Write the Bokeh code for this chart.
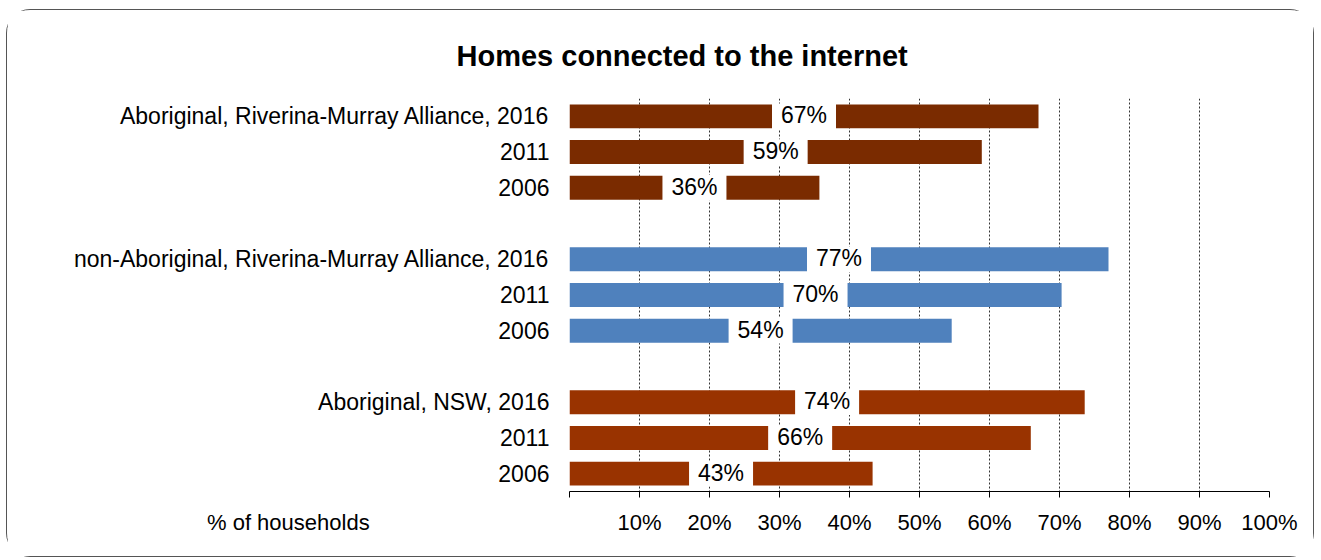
from bokeh.plotting import figure
from bokeh.models import ColumnDataSource, Range1d, FixedTicker
from bokeh.core.properties import value
from bokeh.embed import file_html
from bokeh.resources import INLINE

# ---- data ----
groups = ["Aboriginal, Riverina-Murray Alliance",
          "non-Aboriginal, Riverina-Murray Alliance",
          "Aboriginal, NSW"]
years = ["2016", "2011", "2006"]
aboriginal_rma = [67.0, 58.9, 35.7]
non_aboriginal_rma = [77.0, 70.3, 54.6]
aboriginal_nsw = [73.6, 65.9, 43.3]
bar_labels = ["67%", "59%", "36%", "77%", "70%", "54%", "74%", "66%", "43%"]
group_colors = ["#7A2B00", "#4F81BD", "#993300"]
x_ticks = [0, 10, 20, 30, 40, 50, 60, 70, 80, 90, 100]
x_tick_labels = ["", "10%", "20%", "30%", "40%", "50%", "60%", "70%", "80%", "90%", "100%"]
x_axis_title = "% of households"

FONT = "Liberation Sans"

series = [aboriginal_rma, non_aboriginal_rma, aboriginal_nsw]
ys, vals, cols, cat_labels = [], [], [], {}
for gi, (g, vs) in enumerate(zip(groups, series)):
    for yi, (yr, v) in enumerate(zip(years, vs)):
        pos = gi * 4 + yi
        ys.append(pos)
        vals.append(v)
        cols.append(group_colors[gi])
        cat_labels[pos] = f"{g}, {yr}" if yi == 0 else yr

src = ColumnDataSource(dict(y=ys, v=vals, half=[v / 2 for v in vals],
                            color=cols, label=bar_labels))

p = figure(width=1308, height=548, output_backend="svg", toolbar_location=None,
           x_range=Range1d(0, 100), y_range=Range1d(10.5, -0.5),
           min_border_left=562, min_border_right=46, min_border_top=88,
           min_border_bottom=67)
p.outline_line_color = None
p.background_fill_color = "white"
p.border_fill_color = "white"
p.styles = {"border": "1px solid #555555", "border-radius": "24px",
            "margin-top": "9px", "margin-left": "6px"}

p.hbar(y="y", left=0, right="v", height=0.67, color="color", line_color=None, source=src)
# white label boxes centred on each bar
p.rect(x="half", y="y", width=64, width_units="screen", height=0.72,
       fill_color="white", line_color=None, source=src)
p.text(x="half", y="y", text="label", source=src, text_align="center",
       text_baseline="middle", y_offset=-1, text_font=value(FONT), text_font_size="23px",
       text_color="black")

# title
p.title.text = "Homes connected to the internet"
p.title.align = "left"
p.title.offset = -113
p.title.standoff = 53
p.title.text_font = FONT
p.title.text_font_size = "29px"
p.title.text_font_style = "bold"
p.title.text_color = "black"

# x axis; the axis title sits on the tick-label row, left of the 0 tick
xt = FixedTicker(ticks=x_ticks)
overrides = {t: l for t, l in zip(x_ticks, x_tick_labels)}
overrides[0] = x_axis_title + "\u00a0" * 92
p.xaxis.ticker = xt
p.xaxis.major_label_overrides = overrides
p.xaxis.axis_line_color = "black"
p.xaxis.major_tick_line_color = "black"
p.xaxis.major_tick_out = 6
p.xaxis.major_tick_in = 0
p.xaxis.minor_tick_line_color = None
p.xaxis.major_label_text_font = FONT
p.xaxis.major_label_text_font_size = "22px"
p.xaxis.major_label_text_color = "black"
p.xaxis.major_label_standoff = 12

# y axis
p.yaxis.ticker = FixedTicker(ticks=ys)
p.yaxis.major_label_overrides = cat_labels
p.yaxis.axis_line_color = None
p.yaxis.major_tick_line_color = None
p.yaxis.major_tick_out = 0
p.yaxis.major_tick_in = 0
p.yaxis.minor_tick_line_color = None
p.yaxis.major_label_text_font = FONT
p.yaxis.major_label_text_font_size = "23px"
p.yaxis.major_label_text_color = "black"
p.yaxis.major_label_standoff = 20

# grid
p.xgrid.ticker = xt
p.xgrid.grid_line_color = "#333333"
p.xgrid.grid_line_dash = "2 2"
p.xgrid.grid_line_width = 1
p.ygrid.grid_line_color = None

open("out.html", "w").write(file_html(p, INLINE))
